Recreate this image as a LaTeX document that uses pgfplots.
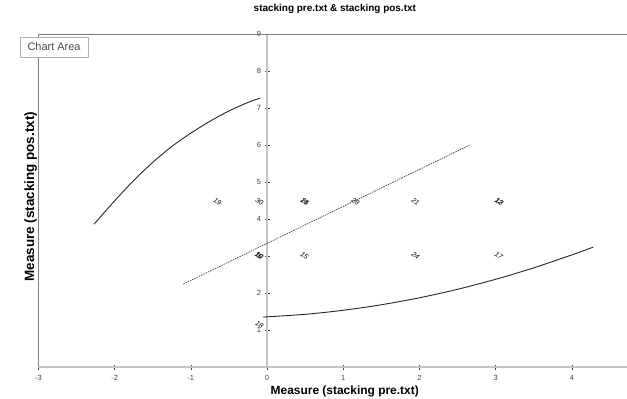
\documentclass[border=0pt]{standalone}
\usepackage{pgfplots}
\pgfplotsset{compat=1.18}
\usepackage{fontspec}
\setmainfont{Liberation Sans}
\usetikzlibrary{shadows}
\definecolor{axgray}{RGB}{196,196,196}
\definecolor{framegray}{RGB}{128,128,128}
\definecolor{ticktext}{RGB}{64,64,64}
\begin{document}
\begin{tikzpicture}
\begin{axis}[
  x=76.2bp, y=37bp,
  xmin=-3, xmax=4.72, ymin=0, ymax=9,
  axis x line=bottom, axis y line=middle,
  axis line style={-, axgray, line width=1.5bp},
  xtick={-3,-2,-1,0,1,2,3,4},
  ytick={0,1,2,3,4,5,6,7,8,9},
  tick align=center,
  major tick length=5bp,
  tick style={ticktext, line width=0.6bp},
  tick label style={font=\fontsize{7.5}{8}\selectfont, text=ticktext},
  xticklabel style={yshift=-2bp},
  /pgf/number format/assume math mode=true,
  clip=false,
  title={stacking pre.txt \& stacking pos.txt},
  title style={font=\bfseries\fontsize{10}{12}\selectfont, at={(axis cs:0.89,9)}, anchor=center, yshift=19bp},
  xlabel={Measure (stacking pre.txt)},
  xlabel style={font=\bfseries\fontsize{12}{14}\selectfont, at={(axis cs:1.02,0)}, anchor=center, yshift=-24bp},
  ylabel={Measure (stacking pos.txt)},
  ylabel style={font=\bfseries\fontsize{13.5}{15}\selectfont, at={(axis cs:-3.1,4.6)}, anchor=center, rotate=90},
]
% frame
\draw[framegray, line width=0.6bp] (axis cs:-3,0) -- (axis cs:-3,9) -- (axis cs:4.72,9);
% upper curve
\addplot[black!85, line width=0.9bp, smooth] coordinates {
(-2.27,3.86) (-2.0,4.49) (-1.75,5.04) (-1.5,5.53) (-1.25,5.96) (-1.0,6.32) (-0.75,6.64) (-0.5,6.92) (-0.25,7.15) (-0.09,7.27)};
% lower curve
\addplot[black!85, line width=0.9bp, smooth] coordinates {
(-0.05,1.35) (0.5,1.424) (1.0,1.533) (1.5,1.682) (2.0,1.871) (2.5,2.10) (3.0,2.37) (3.5,2.68) (4.0,3.03) (4.28,3.24)};
% dotted line
\addplot[black!75, line width=0.7bp, dash pattern=on 1.5bp off 1bp] coordinates {(-1.10,2.24) (2.66,6.0)};
% labelled points
\addplot[draw=none, mark=none, nodes near coords, point meta=explicit symbolic,
  nodes near coords style={rotate=-35, anchor=center, font=\fontsize{7}{8}\selectfont\itshape, text=black, inner sep=0pt}]
table[meta=label] {
x y label
-0.65 4.47 19
-0.10 4.47 30
0.49 4.47 14
0.50 4.46 25
1.16 4.47 28
1.95 4.47 21
3.04 4.47 12
3.05 4.46 13
-0.10 3.01 10
-0.11 3.00 16
0.49 3.01 15
1.95 3.01 24
3.04 3.01 17
-0.10 1.14 18
};
\node[draw=gray!60, fill=white, drop shadow={shadow xshift=1.2bp, shadow yshift=-1.2bp, opacity=0.3}, text=gray!60!black, font=\fontsize{11}{13}\selectfont, minimum width=68bp, minimum height=20bp, inner sep=1bp] at (axis cs:-2.795,8.65) {Chart Area};
\coordinate (bl) at (axis cs:-3.504,-0.838);
\coordinate (tr) at (axis cs:4.724,9.919);
\end{axis}
\pgfresetboundingbox
\path (bl) rectangle (tr);
\end{tikzpicture}
\end{document}
